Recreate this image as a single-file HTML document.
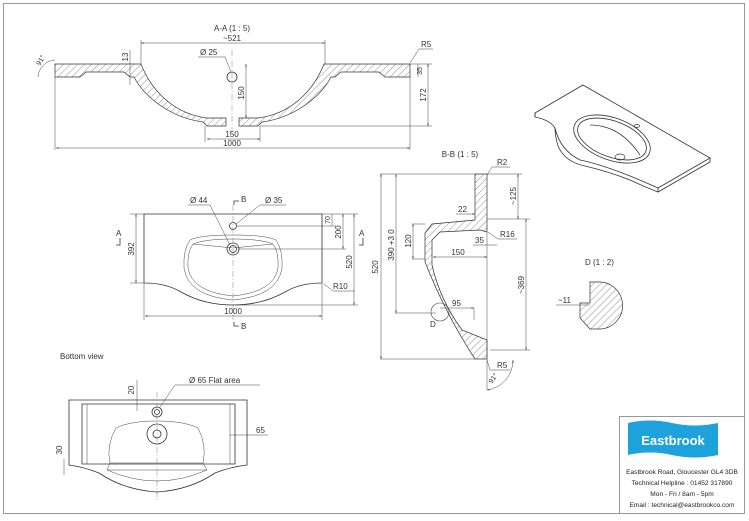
<!DOCTYPE html>
<html><head><meta charset="utf-8"><style>
html,body{margin:0;padding:0;background:#fff;}
svg{display:block;font-family:"Liberation Sans",sans-serif;}
text{fill:#333;}
.l{stroke:#333;stroke-width:0.8;fill:none;}
.t{stroke:#444;stroke-width:0.5;fill:none;}
.h{stroke:#333;stroke-width:0.7;fill:url(#hat);}
.c{stroke:#666;stroke-width:0.4;fill:none;stroke-dasharray:6 2 1 2;}
</style></head><body>
<svg width="749" height="521" viewBox="0 0 749 521" xmlns="http://www.w3.org/2000/svg" font-size="8">
<defs>
<pattern id="hat" width="5" height="5" patternUnits="userSpaceOnUse" patternTransform="rotate(45)">
<line x1="0" y1="0" x2="0" y2="5" stroke="#444" stroke-width="0.6"/></pattern>
<marker id="a" markerWidth="6" markerHeight="6" refX="5" refY="3" orient="auto-start-reverse"><path d="M0,1.5 L5,3 L0,4.5z" fill="#333"/></marker>
</defs>
<rect x="3.5" y="3.5" width="741" height="510" fill="none" stroke="#999" stroke-width="1"/>

<!-- A-A section -->
<text x="232" y="31" text-anchor="middle">A-A  (1 : 5)</text>
<text x="232" y="41" text-anchor="middle">~521</text>
<line class="t" x1="141" y1="43" x2="325" y2="43" marker-start="url(#a)" marker-end="url(#a)"/>
<line class="t" x1="141" y1="40" x2="141" y2="64"/><line class="t" x1="325" y1="40" x2="325" y2="64"/>
<path class="h" d="M55,64 L141,64 C152,92 175,114 207,118 L226,118 L226,126 L207,126 L203,122 C172,118 145,98 134,77 L130,77 L124,72 L86,72 L80,77 L55,77 Z"/>
<path class="h" d="M410,64 L324,64 C313,92 290,114 258,118 L239,118 L239,126 L258,126 L262,122 C293,118 320,98 331,77 L335,77 L341,72 L379,72 L385,77 L410,77 Z"/>
<circle cx="232" cy="77" r="5" fill="#fff" stroke="#333" stroke-width="0.8"/>
<line class="c" x1="232" y1="50" x2="232" y2="135"/>
<text x="200" y="55">Ø 25</text><path class="t" d="M198,57 L225,57 L231,72"/>
<line class="t" x1="246" y1="64" x2="246" y2="118" marker-start="url(#a)" marker-end="url(#a)"/>
<text transform="translate(244,93) rotate(-90)" text-anchor="middle">150</text>
<line class="t" x1="130" y1="50" x2="130" y2="85"/>
<text transform="translate(128,57) rotate(-90)" text-anchor="middle">13</text>
<line class="t" x1="205" y1="126" x2="205" y2="142"/><line class="t" x1="260" y1="126" x2="260" y2="142"/>
<line class="t" x1="207" y1="139" x2="260" y2="139" marker-start="url(#a)" marker-end="url(#a)"/>
<text x="232" y="137" text-anchor="middle">150</text>
<line class="t" x1="55" y1="77" x2="55" y2="150"/><line class="t" x1="410" y1="77" x2="410" y2="150"/>
<line class="t" x1="56" y1="148" x2="410" y2="148" marker-start="url(#a)" marker-end="url(#a)"/>
<text x="232" y="146" text-anchor="middle">1000</text>
<line class="t" x1="260" y1="126" x2="432" y2="126"/><line class="t" x1="410" y1="64" x2="432" y2="64"/>
<line class="t" x1="428" y1="64" x2="428" y2="126" marker-start="url(#a)" marker-end="url(#a)"/>
<text transform="translate(426,95) rotate(-90)" text-anchor="middle">172</text>
<line class="t" x1="418" y1="64" x2="418" y2="77"/>
<text transform="translate(422,71) rotate(-90)" text-anchor="middle" font-size="7">35</text>
<text x="421" y="47">R5</text><path class="t" d="M433,49 L419,49 L410,63"/>
<path class="t" d="M38,77 A18,18 0 0 1 55,60"/><text transform="translate(40,66) rotate(-60)" font-size="7">91°</text>

<!-- Plan view -->
<path class="l" d="M144,214 L322,214 L322,283 Q300,283 285,292 Q262,305 233,305 Q204,305 181,292 Q166,283 144,283 Z"/>
<path class="t" d="M190,240 Q200,235 233,235 Q266,235 276,240 Q283,250 282,268 Q278,296 233,300 Q188,296 184,268 Q183,250 190,240 Z"/>
<path class="t" d="M193,244 Q205,239 233,239 Q261,239 273,244 Q279,252 278,268 Q274,292 233,296 Q192,292 188,268 Q187,252 193,244 Z"/>
<path class="t" d="M193,244 L233,248 L273,244"/>
<circle class="l" cx="233" cy="226" r="3.5"/>
<circle class="l" cx="233" cy="249" r="6"/><circle class="l" cx="233" cy="249" r="3.5"/>
<line class="c" x1="233" y1="205" x2="233" y2="320"/>
<text x="190" y="203">Ø 44</text><path class="t" d="M188,205 L210,205 L230,245"/>
<text x="265" y="203">Ø 35</text><path class="t" d="M286,205 L260,205 L236,224"/>
<text x="241" y="202">B</text><path class="l" d="M234,205 L234,201 L239,201"/>
<text x="241" y="329">B</text><path class="l" d="M234,322 L234,326 L239,326"/>
<text x="116" y="236">A</text><path class="l" d="M120,238 L120,245 L116,245"/>
<text x="359" y="236">A</text><path class="l" d="M363,238 L363,245 L359,245"/>
<line class="t" x1="130" y1="214" x2="144" y2="214"/><line class="t" x1="130" y1="283" x2="144" y2="283"/>
<line class="t" x1="136" y1="214" x2="136" y2="283" marker-start="url(#a)" marker-end="url(#a)"/>
<text transform="translate(134,249) rotate(-90)" text-anchor="middle">392</text>
<line class="t" x1="322" y1="214" x2="358" y2="214"/><line class="t" x1="238" y1="249" x2="346" y2="249"/><line class="t" x1="237" y1="226" x2="336" y2="226"/><line class="t" x1="235" y1="305" x2="358" y2="305"/>
<line class="t" x1="332" y1="214" x2="332" y2="226"/><text transform="translate(330,220) rotate(-90)" text-anchor="middle" font-size="7">70</text>
<line class="t" x1="343" y1="214" x2="343" y2="249" marker-start="url(#a)" marker-end="url(#a)"/><text transform="translate(341,232) rotate(-90)" text-anchor="middle">200</text>
<line class="t" x1="354" y1="214" x2="354" y2="305" marker-start="url(#a)" marker-end="url(#a)"/><text transform="translate(352,262) rotate(-90)" text-anchor="middle">520</text>
<text x="333" y="289">R10</text><path class="t" d="M355,291 L333,291 L324,284"/>
<line class="t" x1="144" y1="283" x2="144" y2="320"/><line class="t" x1="322" y1="283" x2="322" y2="320"/>
<line class="t" x1="145" y1="316" x2="322" y2="316" marker-start="url(#a)" marker-end="url(#a)"/>
<text x="233" y="314" text-anchor="middle">1000</text>

<!-- B-B section -->
<text x="460" y="157" text-anchor="middle">B-B  (1 : 5)</text>
<path class="h" d="M475,174 L487,174 L487,232 L480,230 L440,232 L432,240 L432,265 Q440,300 462,330 L487,340 L487,359 L475,359 Q446,315 425,262 L425,233 L432,224 L475,220 Z"/>
<line class="t" x1="380" y1="174" x2="475" y2="174"/><line class="t" x1="380" y1="359" x2="475" y2="359"/>
<line class="t" x1="381" y1="174" x2="381" y2="359" marker-start="url(#a)" marker-end="url(#a)"/>
<text transform="translate(378,267) rotate(-90)" text-anchor="middle">520</text>
<line class="t" x1="395" y1="313" x2="436" y2="313"/>
<line class="t" x1="396" y1="174" x2="396" y2="313" marker-start="url(#a)" marker-end="url(#a)"/>
<text transform="translate(394,245) rotate(-90)" text-anchor="middle">390  +3 0</text>
<line class="t" x1="412" y1="224" x2="425" y2="224"/><line class="t" x1="412" y1="259" x2="425" y2="259"/>
<line class="t" x1="413" y1="224" x2="413" y2="259" marker-start="url(#a)" marker-end="url(#a)"/>
<text transform="translate(411,241) rotate(-90)" text-anchor="middle">120</text>
<line class="t" x1="433" y1="257" x2="487" y2="257" marker-start="url(#a)" marker-end="url(#a)"/>
<text x="458" y="255" text-anchor="middle">150</text>
<line class="t" x1="487" y1="232" x2="487" y2="390"/>
<text x="458" y="212">22</text><line class="t" x1="456" y1="214" x2="475" y2="214" marker-end="url(#a)"/>
<text x="475" y="243">35</text><line class="t" x1="473" y1="245" x2="497" y2="245"/>
<text x="500" y="237">R16</text><path class="t" d="M517,239 L498,239 L488,232"/>
<text x="497" y="165">R2</text><path class="t" d="M510,167 L492,167 L487,175"/>
<line class="t" x1="487" y1="174" x2="522" y2="174"/><line class="t" x1="487" y1="219" x2="530" y2="219"/>
<line class="t" x1="518" y1="174" x2="518" y2="219" marker-start="url(#a)" marker-end="url(#a)"/>
<text transform="translate(516,196) rotate(-90)" text-anchor="middle">~125</text>
<line class="t" x1="490" y1="350" x2="530" y2="350"/>
<line class="t" x1="526" y1="219" x2="526" y2="350" marker-start="url(#a)" marker-end="url(#a)"/>
<text transform="translate(524,285) rotate(-90)" text-anchor="middle">~369</text>
<circle cx="440" cy="312" r="9" fill="none" stroke="#444" stroke-width="0.6"/>
<text x="430" y="327">D</text>
<text x="452" y="306">95</text><line class="t" x1="440" y1="308" x2="474" y2="308" marker-end="url(#a)"/>
<line class="t" x1="474" y1="308" x2="474" y2="320"/>
<text x="497" y="368">R5</text><path class="t" d="M510,370 L490,370 L487,360"/>
<path class="t" d="M487,390 A30,30 0 0 0 513,360" marker-start="url(#a)" marker-end="url(#a)"/>
<text transform="translate(492,384) rotate(-55)" font-size="7">91°</text>

<!-- D detail -->
<text x="585" y="265">D  (1 : 2)</text>
<path class="h" d="M590,282 L597,282 A22,22 0 0 1 601,329 L590,329 L580,318 L580,303 L590,303 Z"/>
<text x="558" y="303">~11</text><line class="t" x1="556" y1="305" x2="590" y2="305"/>

<!-- Isometric -->
<g class="l" stroke-width="0.7">
<path d="M535,113 L583,85 L710,158 L658,188 Q645,182 630,176 Q600,164 580,160 Q560,150 555,128 Q550,120 535,117 Z"/>
<path d="M535,113 L535,117 M710,158 L710,162 L658,192 L658,188"/>
<path d="M555,128 Q555,136 558,146 Q565,162 585,166 Q610,172 630,180 Q645,187 658,192"/>
<ellipse cx="612" cy="139" rx="40" ry="21" transform="rotate(20 612 139)"/>
<ellipse cx="612" cy="139" rx="36" ry="18" transform="rotate(20 612 139)"/>
<path d="M590,125 Q620,125 640,155"/>
</g>
<ellipse cx="620" cy="157" rx="5" ry="3" fill="none" stroke="#333" stroke-width="0.7"/>
<ellipse cx="637" cy="126" rx="2.5" ry="1.5" fill="none" stroke="#333" stroke-width="0.7"/>

<!-- Bottom view -->
<text x="60" y="359">Bottom view</text>
<path class="l" d="M69,400 L247,400 L247,465 Q230,467 215,473 Q190,490 157,492 Q124,490 99,473 Q84,467 69,465 Z"/>
<path class="l" d="M82,404 L235,404 L235,464 L82,464 Z"/>
<path class="t" d="M87,404 L87,464 M230,404 L230,464"/>
<path class="t" d="M116,428 Q130,421 157,421 Q184,421 198,428 Q207,445 203,463 L110,463 Q106,445 116,428 Z"/>
<path class="t" d="M110,463 L107,470 L207,470 L203,463"/>
<path class="t" d="M107,470 Q157,492 207,470"/>
<circle class="l" cx="157" cy="412" r="5"/><circle class="l" cx="157" cy="412" r="2.5"/>
<circle class="l" cx="157" cy="434" r="10"/><circle class="l" cx="157" cy="434" r="4"/>
<line class="c" x1="157" y1="392" x2="157" y2="500"/>
<text x="189" y="383">Ø 65 Flat area</text><path class="t" d="M260,385 L175,385 L160,407"/>
<line class="t" x1="137" y1="380" x2="137" y2="411"/>
<text transform="translate(134,390) rotate(-90)" text-anchor="middle">20</text>
<line class="t" x1="64" y1="459" x2="64" y2="475"/>
<text transform="translate(62,450) rotate(-90)" text-anchor="middle">30</text>
<text x="256" y="433">65</text><line class="t" x1="230" y1="435" x2="268" y2="435"/>

<!-- Title block -->
<rect x="619.5" y="416.5" width="125" height="97" fill="#fff" stroke="#999" stroke-width="1"/>
<path d="M628,423 Q650,418 672,423 Q695,428 718,423 L718,455 Q695,460 672,455 Q650,450 628,455 Z" fill="#1ea2dc"/>
<text x="673" y="445" text-anchor="middle" style="font-size:13px;font-weight:bold;fill:#fff">Eastbrook</text>
<text x="682" y="474" text-anchor="middle" style="font-size:6.6px;fill:#222">Eastbrook Road, Gloucester GL4 3DB</text>
<text x="682" y="485" text-anchor="middle" style="font-size:6.6px;fill:#222">Technical Helpline : 01452 317890</text>
<text x="682" y="496" text-anchor="middle" style="font-size:6.6px;fill:#222">Mon - Fri / 8am - 5pm</text>
<text x="682" y="507" text-anchor="middle" style="font-size:6.6px;fill:#222">Email : technical@eastbrookco.com</text>
</svg>
</body></html>
